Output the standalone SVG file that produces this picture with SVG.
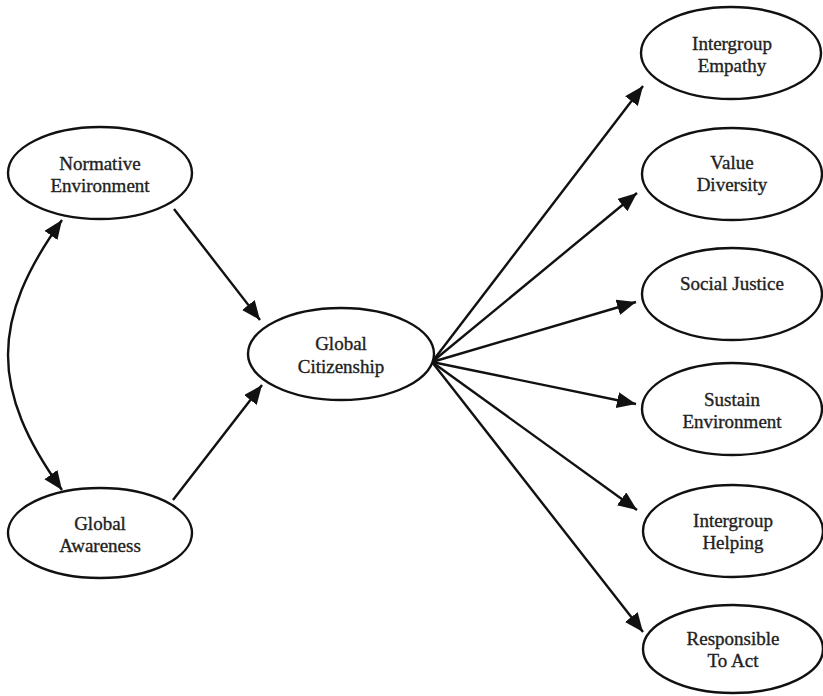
<svg xmlns="http://www.w3.org/2000/svg" width="823" height="696" viewBox="0 0 823 696">
<defs>
<marker id="ah" markerUnits="userSpaceOnUse" markerWidth="22" markerHeight="18" refX="19" refY="8" orient="auto-start-reverse">
<path d="M0,0 L19,8 L0,16 z" fill="#111"/>
</marker>
<style>
.n ellipse{fill:#fff;stroke:#111;stroke-width:2.4}
.n text{font-family:"Liberation Serif","Times New Roman",serif;font-size:19px;fill:#222;stroke:#222;stroke-width:0.35;text-anchor:middle}
.c path{fill:none;stroke:#111;stroke-width:2.4}
</style>
</defs>
<rect width="823" height="696" fill="#fff"/>
<g class="c" id="connectors">
<path d="M62,220 C-10,320 -10,390 62,490" marker-start="url(#ah)" marker-end="url(#ah)"/>
<path d="M174,209 L260,320" marker-end="url(#ah)"/>
<path d="M173,500 L262,385" marker-end="url(#ah)"/>
<path d="M432,362 L643,86" marker-end="url(#ah)"/>
<path d="M432,362 L637,193" marker-end="url(#ah)"/>
<path d="M432,362 L636,302" marker-end="url(#ah)"/>
<path d="M432,362 L636,404" marker-end="url(#ah)"/>
<path d="M432,362 L637,510" marker-end="url(#ah)"/>
<path d="M432,362 L643,632" marker-end="url(#ah)"/>
</g>
<g class="n" id="normative">
<ellipse cx="100" cy="173" rx="92" ry="46"/>
<text x="100" y="170">Normative</text>
<text x="100" y="192">Environment</text>
</g>
<g class="n" id="awareness">
<ellipse cx="100" cy="533" rx="92" ry="45"/>
<text x="100" y="530">Global</text>
<text x="100" y="552">Awareness</text>
</g>
<g class="n" id="citizenship">
<ellipse cx="341" cy="354" rx="93" ry="46"/>
<text x="341" y="350">Global</text>
<text x="341" y="373">Citizenship</text>
</g>
<g class="n" id="empathy">
<ellipse cx="731" cy="53" rx="90" ry="46"/>
<text x="732" y="50">Intergroup</text>
<text x="732" y="72">Empathy</text>
</g>
<g class="n" id="diversity">
<ellipse cx="732" cy="174" rx="90" ry="46"/>
<text x="732" y="169">Value</text>
<text x="732" y="191">Diversity</text>
</g>
<g class="n" id="justice">
<ellipse cx="732" cy="294" rx="90" ry="46"/>
<text x="732" y="290">Social Justice</text>
</g>
<g class="n" id="sustain">
<ellipse cx="732" cy="409" rx="90" ry="46"/>
<text x="732" y="406">Sustain</text>
<text x="732" y="428">Environment</text>
</g>
<g class="n" id="helping">
<ellipse cx="733" cy="531" rx="90" ry="46"/>
<text x="733" y="527">Intergroup</text>
<text x="733" y="549">Helping</text>
</g>
<g class="n" id="responsible">
<ellipse cx="733" cy="649" rx="90" ry="44"/>
<text x="733" y="645">Responsible</text>
<text x="733" y="667">To Act</text>
</g>
</svg>
